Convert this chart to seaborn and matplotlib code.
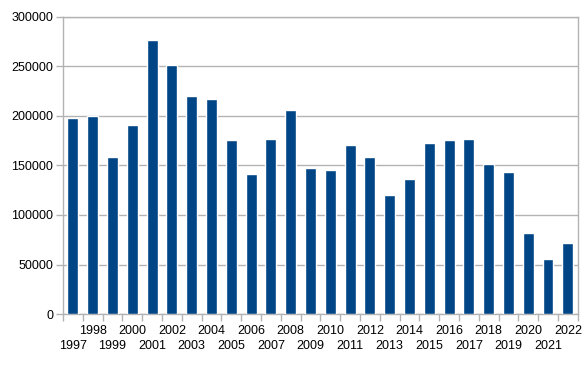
import matplotlib
matplotlib.use("Agg")
import matplotlib.pyplot as plt
import pandas as pd
import seaborn as sns

years = list(range(1997, 2023))
values = [198000, 200000, 159000, 191000, 277000, 251000, 220000, 217000,
          176000, 141000, 177000, 206000, 147000, 145000, 171000, 159000,
          120000, 136000, 173000, 176000, 177000, 151000, 143000, 82000,
          56000, 72000]
y_ticks = [0, 50000, 100000, 150000, 200000, 250000, 300000]

BAR = "#004586"
GRID = "#b3b3b3"

sns.set_theme(style="white")
plt.rcParams["font.family"] = ["Liberation Sans", "DejaVu Sans"]

df = pd.DataFrame({"year": [str(y) for y in years], "value": values})

fig = plt.figure(figsize=(5.83, 3.73), dpi=100)
ax = fig.add_axes([0.108, 0.158, 0.883, 0.797])

sns.barplot(data=df, x="year", y="value", color=BAR, width=0.55,
            saturation=1, ax=ax, zorder=3)

n = len(years)
ax.set_xlim(-0.5, n - 0.5)
ax.set_ylim(0, 300000)
ax.set_yticks(y_ticks)
ax.set_yticklabels([str(v) for v in y_ticks], fontsize=9, color="black")

# staggered labels: even years top row, odd years second row
ax.set_xticks(range(n))
ax.set_xticklabels([str(y) for y in years], fontsize=9, color="black")
ax.set_xticks([i - 0.5 for i in range(n + 1)], minor=True)
ax.tick_params(axis="x", which="major", length=0)
for tick, y in zip(ax.xaxis.get_major_ticks(), years):
    tick.set_pad(19 if y % 2 else 8)
ax.tick_params(axis="x", which="minor", length=5, width=1, color=GRID,
               bottom=True)
ax.tick_params(axis="y", length=5, width=1, color=GRID, left=True, pad=2)

ax.yaxis.grid(True, color=GRID, lw=1, zorder=0)
ax.set_axisbelow(True)
for s in ax.spines.values():
    s.set_visible(True)
    s.set_color(GRID)
    s.set_linewidth(1)
ax.set_xlabel("")
ax.set_ylabel("")

fig.savefig("out.png", dpi=100)
